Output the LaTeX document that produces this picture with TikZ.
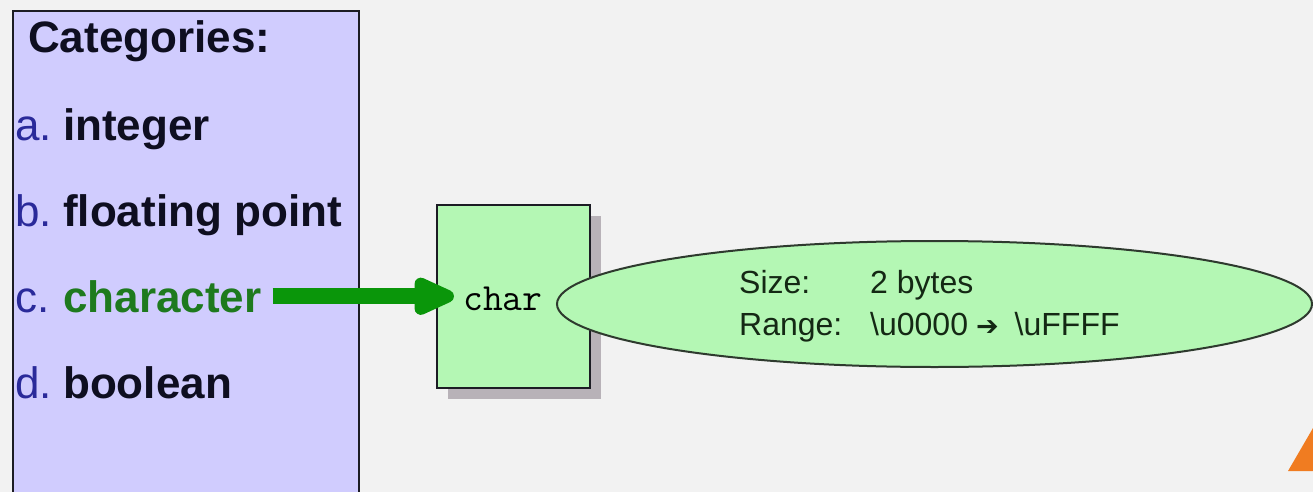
\documentclass[tikz,border=0pt]{standalone}
\usepackage{fontspec}
\setmainfont{Liberation Sans}
\newfontfamily\dejavu{DejaVu Sans}
\usetikzlibrary{arrows.meta,shapes.geometric,shadows}
\definecolor{bg}{HTML}{F2F2F2}
\definecolor{lav}{HTML}{D0CCFE}
\definecolor{boxline}{HTML}{1C1C24}
\definecolor{lblue}{HTML}{2A2A9A}
\definecolor{itemtext}{HTML}{0E0E20}
\definecolor{chargreen}{HTML}{1E7A1E}
\definecolor{arrowgreen}{HTML}{0A960A}
\definecolor{lgreen}{HTML}{B4F7B4}
\definecolor{ellline}{HTML}{2E3A2E}
\definecolor{etextcol}{HTML}{142814}
\definecolor{shadowgray}{HTML}{B8B2B8}
\definecolor{orange1}{HTML}{F07C21}
\newcommand\itemlbl[1]{\makebox[48pt][l]{\mdseries\color{lblue}#1}}
\begin{document}
\begin{tikzpicture}[x=1pt,y=-1pt,
  panel/.style={draw=boxline, line width=2pt, fill=lav, anchor=north west,
    minimum width=346pt, minimum height=520pt, inner sep=0pt},
  item/.style={anchor=base west, inner sep=0pt, text=itemtext,
    font=\fontsize{44}{44}\selectfont\bfseries},
  charbox/.style={draw=boxline, line width=2pt, fill=lgreen,
    minimum width=153pt, minimum height=183pt, inner sep=0pt,
    drop shadow={shadow xshift=11pt, shadow yshift=-11pt, fill=shadowgray, opacity=1}},
  monotext/.style={anchor=base west, inner sep=0pt,
    font=\ttfamily\fontsize{38.5}{38.5}\selectfont, text=black},
  rangeell/.style={ellipse, draw=ellline, line width=2pt, fill=lgreen,
    minimum width=755pt, minimum height=126pt, inner sep=0pt},
  etext/.style={anchor=base west, inner sep=0pt, text=etextcol,
    font=\fontsize{32}{32}\selectfont},
  bigarrow/.style={draw=arrowgreen, line width=16pt,
    -{Triangle[width=40pt,length=50pt,round]}}
]
\useasboundingbox (0,0) rectangle (1313,492);
\fill[bg] (0,0) rectangle (1313,492);

\node[panel] (panel) at (12,10) {};

\node[item] (cat) at (28,53) {Categories:};
\node[item] (ia) at (15,140) {\itemlbl{a.}integer};
\node[item] (ib) at (15,226) {\itemlbl{b.}floating point};
\node[item, text=chargreen] (ic) at (15,312) {\itemlbl{c.}character};
\node[item] (id) at (15,398) {\itemlbl{d.}boolean};

\node[charbox] (cb) at (513.5,296.5) {};
\node[monotext] (ct) at (463,310) {char};

\draw[bigarrow] ([xshift=11pt]ic.east) -- ([xshift=18pt]cb.west |- ic.east);

\node[rangeell] (rng) at (934.5,304) {};
\node[etext] (l1) at (739,293) {\makebox[131pt][l]{Size:}2 bytes};
\node[etext] (l2) at (739,335) {\makebox[131pt][l]{Range:}\textbackslash u0000\hspace{8pt}{\dejavu\bfseries\fontsize{27}{27}\selectfont ➔}\hspace{16pt}\textbackslash uFFFF};

\fill[orange1] (1288,471) -- (1313,428) -- (1313,471) -- cycle;
\end{tikzpicture}
\end{document}
